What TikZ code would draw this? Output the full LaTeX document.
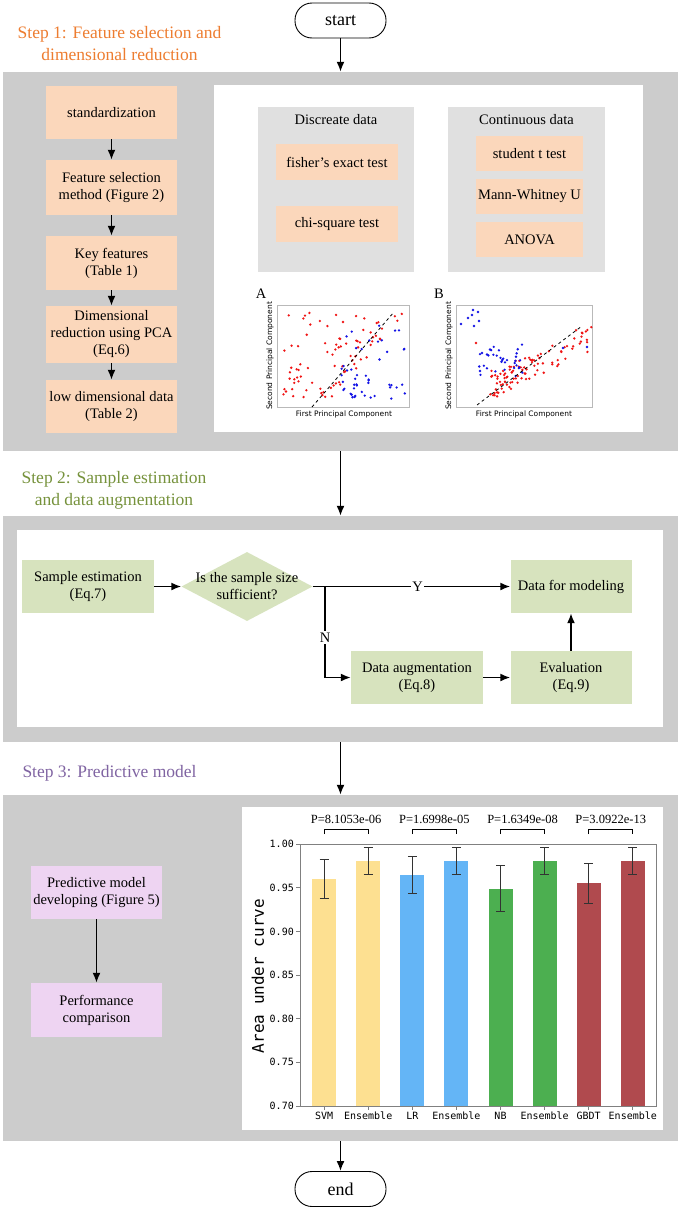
\documentclass[tikz,border=0pt]{standalone}
\usepackage{fontspec}
\setmainfont{Liberation Serif}
\newfontfamily\plotfont{DejaVu Sans}
\newfontfamily\chartfont{DejaVu Sans Mono}
\usetikzlibrary{shapes.geometric,arrows.meta}

\definecolor{stepgray}{RGB}{204,204,204}
\definecolor{panelgray}{RGB}{224,224,224}
\definecolor{peach}{RGB}{251,215,187}
\definecolor{sage}{RGB}{215,227,190}
\definecolor{lilac}{RGB}{238,212,242}
\definecolor{titleorange}{RGB}{237,125,49}
\definecolor{titlegreen}{RGB}{118,146,60}
\definecolor{titlepurple}{RGB}{128,100,162}
\definecolor{barsvm}{RGB}{253,224,145}
\definecolor{barlr}{RGB}{100,181,246}
\definecolor{barnb}{RGB}{76,175,80}
\definecolor{bargbdt}{RGB}{176,74,78}
\definecolor{dotred}{RGB}{240,20,20}
\definecolor{dotblue}{RGB}{20,20,230}

\tikzset{
  box/.style={minimum width=131pt, minimum height=53pt, align=center, inner sep=0pt,
    font=\fontsize{14.5}{17}\selectfont},
  peachbox/.style={box, fill=peach},
  sagebox/.style={box, fill=sage},
  lilacbox/.style={box, fill=lilac},
  testbox/.style={box, fill=peach, minimum width=122pt, minimum height=36pt},
  stepband/.style={fill=stepgray, minimum width=675pt, inner sep=0pt},
  panel/.style={fill=white, inner sep=0pt},
  terminal/.style={draw, line width=0.9pt, rounded corners=17pt, minimum width=91pt,
    minimum height=35pt, font=\fontsize{18}{20}\selectfont},
  steptitle/.style={align=center, inner sep=0pt, font=\fontsize{17.5}{22}\selectfont},
  flow/.style={-{Latex[length=10pt,width=8pt]}, line width=1.7pt},
  plotframe/.style={draw=gray!55, line width=0.8pt},
  plotlabel/.style={inner sep=0pt, font=\plotfont\fontsize{7.5}{9}\selectfont},
  axis/.style={draw=gray, line width=1pt},
  ticklabel/.style={inner sep=1pt, font=\chartfont\fontsize{10}{12}\selectfont},
  errbar/.style={draw=black!80, line width=1pt}
}

\begin{document}
\begin{tikzpicture}[x=1pt,y=-1pt]
\useasboundingbox (0,0) rectangle (681,1210);
\def\ybase{1106}
\def\aucscale{873.3}

% start and step 1
\node[terminal] (start) at (340.5,20.5) {start};
\node[steptitle, text=titleorange] (titleone) at (119.5,44) {Step 1: Feature selection and\\dimensional reduction};
\node[stepband, minimum height=379pt] (stepone) at (340.5,261.5) {};
\node[panel, minimum width=429pt, minimum height=347pt] (panelone) at (428.5,258.5) {};

\node[peachbox] (std) at (111.5,112.5) {standardization};
\node[peachbox, minimum height=55pt] (fsel) at (111.5,187.5) {Feature selection\\method (Figure 2)};
\node[peachbox, minimum height=54pt] (keyfeat) at (111.5,263) {Key features\\(Table 1)};
\node[peachbox, minimum height=57pt] (dimred) at (111.5,334.5) {Dimensional\\reduction using PCA\\(Eq.6)};
\node[peachbox] (lowdim) at (111.5,406.5) {low dimensional data\\(Table 2)};
\foreach \a/\b in {std/fsel, fsel/keyfeat, keyfeat/dimred, dimred/lowdim}
  \draw[flow] (\a) -- (\b);

\node[fill=panelgray, inner sep=0pt, minimum width=156pt, minimum height=165pt] (discrete) at (336,189.5) {};
\node[box] (discretetitle) at (336,120) {Discreate data};
\node[testbox] (fisher) at (337,162) {fisher's exact test};
\node[testbox] (chisq) at (337,224) {chi-square test};
\node[fill=panelgray, inner sep=0pt, minimum width=157pt, minimum height=165pt] (continuous) at (526.5,189.5) {};
\node[box] (continuoustitle) at (526.5,120) {Continuous data};
\node[testbox, minimum width=107pt, minimum height=35pt] (ttest) at (529.5,153.5) {student t test};
\node[testbox, minimum width=107pt, minimum height=35pt] (mannw) at (529.5,196.5) {Mann-Whitney U};
\node[testbox, minimum width=107pt, minimum height=35pt] (anova) at (529.5,239.5) {ANOVA};

% scatter A
\node[box, minimum width=0pt, minimum height=0pt] (labela) at (261,294) {A};
\draw[plotframe] (277,305) rectangle (409,407);
\node[plotlabel] (xlabela) at (344,414) {First Principal Component};
\node[plotlabel, rotate=90] (ylabela) at (270,356) {Second Principal Component};
\pgfmathsetseed{12}
\foreach \i in {1,...,85}{
  \pgfmathsetmacro{\doty}{312+88*rnd}
  \pgfmathsetmacro{\edgex}{312+(407-\doty)*82/95}
  \pgfmathsetmacro{\dotx}{283+(\edgex-270)*rnd}
  \fill[dotred] (\dotx,\doty) circle (1.3pt);
}
\foreach \i in {1,...,30}{
  \pgfmathsetmacro{\dotx}{338+68*rnd}
  \pgfmathsetmacro{\doty}{320+80*rnd}
  \fill[dotblue] (\dotx,\doty) circle (1.3pt);
}
\foreach \i in {1,...,18}{
  \pgfmathsetmacro{\dotx}{340+40*rnd}
  \pgfmathsetmacro{\doty}{372+26*rnd}
  \fill[dotblue] (\dotx,\doty) circle (1.3pt);
}
\draw[dashed, line width=0.8pt] (312,407) -- (394,312);

% scatter B
\node[box, minimum width=0pt, minimum height=0pt] (labelb) at (439,294) {B};
\draw[plotframe] (456,305) rectangle (592,407);
\node[plotlabel] (xlabelb) at (524,414) {First Principal Component};
\node[plotlabel, rotate=90] (ylabelb) at (449,356) {Second Principal Component};
\foreach \i in {1,...,100}{
  \pgfmathsetmacro{\tpos}{rnd^1.6}
  \pgfmathsetmacro{\dotx}{492+98*\tpos+12*(rnd-0.5)}
  \pgfmathsetmacro{\doty}{385-48*\tpos+26*(rnd-0.5)}
  \fill[dotred] (\dotx,\doty) circle (1.3pt);
}
\foreach \i in {1,...,35}{
  \pgfmathsetmacro{\dotx}{478+45*rnd}
  \pgfmathsetmacro{\doty}{343+34*rnd}
  \fill[dotblue] (\dotx,\doty) circle (1.3pt);
}
\foreach \dotx/\doty in {461/324, 468/318, 472/315, 473/310, 478/312, 474/326, 479/321, 480/371, 587/347, 563/348}
  \fill[dotblue] (\dotx,\doty) circle (1.3pt);
\fill[dotred] (476,343) circle (1.3pt);
\draw[dashed, line width=0.8pt] (477,405) -- (582,326);

% step 2
\node[steptitle, text=titlegreen] (titletwo) at (114,490) {Step 2: Sample estimation\\and data augmentation};
\node[stepband, minimum height=226pt] (steptwo) at (340.5,629) {};
\node[panel, minimum width=646pt, minimum height=197pt] (paneltwo) at (340,628.5) {};
\draw[flow] (stepone) -- (steptwo);

\node[sagebox, minimum width=132pt] (sampest) at (88,586.5) {Sample estimation\\(Eq.7)};
\node[diamond, fill=sage, inner sep=0pt, minimum width=131pt, minimum height=69pt] (decide) at (247,586.5) {};
\node[box, minimum width=0pt, minimum height=0pt] (decidetext) at (decide) {Is the sample size\\sufficient?};
\node[sagebox, minimum width=121pt] (datamodel) at (571,586.5) {Data for modeling};
\node[sagebox, minimum width=132pt] (dataaug) at (417,677.5) {Data augmentation\\(Eq.8)};
\node[sagebox, minimum width=121pt] (evaluation) at (571,677.5) {Evaluation\\(Eq.9)};
\coordinate (branch) at (325,586.5);

\draw[flow] (sampest) -- (decide);
\draw[flow] (decide.east) -- (branch) -- node[fill=white, inner sep=1.5pt, font=\fontsize{14.5}{17}\selectfont] (yes) {Y} (datamodel);
\draw[flow] (branch) |- node[pos=0.28, fill=white, inner sep=1.5pt, font=\fontsize{14.5}{17}\selectfont] (no) {N} (dataaug);
\draw[flow] (dataaug) -- (evaluation);
\draw[flow] (evaluation) -- (datamodel);

% step 3
\node[steptitle, text=titlepurple] (titlethree) at (109.5,773) {Step 3: Predictive model};
\node[stepband, minimum height=346pt] (stepthree) at (340.5,968) {};
\node[panel, minimum width=421pt, minimum height=323pt] (panelthree) at (452.5,968.5) {};
\draw[flow] (steptwo) -- (stepthree);

\node[lilacbox] (predmodel) at (96.5,892.5) {Predictive model\\developing (Figure 5)};
\node[lilacbox, minimum height=54pt] (perfcomp) at (96.5,1010) {Performance\\comparison};
\draw[flow] (predmodel) -- (perfcomp);

% AUC bars
\foreach \n/\v/\lo/\hi/\c/\lab in {1/0.960/0.938/0.982/barsvm/SVM, 2/0.980/0.965/0.996/barsvm/Ensemble,
    3/0.964/0.943/0.986/barlr/LR, 4/0.980/0.965/0.996/barlr/Ensemble,
    5/0.949/0.923/0.975/barnb/NB, 6/0.980/0.965/0.996/barnb/Ensemble,
    7/0.955/0.932/0.978/bargbdt/GBDT, 8/0.980/0.965/0.996/bargbdt/Ensemble}{
  \pgfmathsetmacro{\xc}{280+44.1*\n}
  \pgfmathsetmacro{\ybar}{844+(1-\v)*\aucscale}
  \pgfmathsetmacro{\ylo}{844+(1-\lo)*\aucscale}
  \pgfmathsetmacro{\yhi}{844+(1-\hi)*\aucscale}
  \fill[\c] (\xc-12,\ybar) rectangle (\xc+12,\ybase);
  \draw[errbar] (\xc,\yhi) -- (\xc,\ylo);
  \draw[errbar] (\xc-4.5,\yhi) -- (\xc+4.5,\yhi);
  \draw[errbar] (\xc-4.5,\ylo) -- (\xc+4.5,\ylo);
  \draw[axis] (\xc,\ybase) -- (\xc,\ybase+4);
  \node[ticklabel, anchor=north] (xtick\n) at (\xc,\ybase+5) {\lab};
}
\draw[axis] (300,844) rectangle (656,\ybase);
\foreach \k/\lab in {0/0.70, 1/0.75, 2/0.80, 3/0.85, 4/0.90, 5/0.95, 6/1.00}{
  \pgfmathsetmacro{\yt}{\ybase-43.66*\k}
  \draw[axis] (296,\yt) -- (300,\yt);
  \node[ticklabel, anchor=east] (ytick\k) at (295,\yt) {\lab};
}
\node[rotate=90, inner sep=0pt, font=\chartfont\fontsize{16}{18}\selectfont] (auclabel) at (258,976) {Area under curve};

% p values
\foreach \n/\p in {1/8.1053e-06, 2/1.6998e-05, 3/1.6349e-08, 4/3.0922e-13}{
  \pgfmathsetmacro{\xl}{280+44.1*(2*\n-1)}
  \pgfmathsetmacro{\xr}{\xl+44.1}
  \draw[line width=0.8pt] (\xl,834) -- (\xl,829) -- (\xr,829) -- (\xr,834);
  \node[inner sep=0pt, font=\fontsize{12.5}{14}\selectfont] (pval\n) at ({(\xl+\xr)/2},819) {P=\p};
}

% end
\node[terminal] (finish) at (340.5,1189) {end};
\draw[flow] (stepthree) -- (finish);
\draw[flow] (start) -- (stepone);
\end{tikzpicture}
\end{document}
